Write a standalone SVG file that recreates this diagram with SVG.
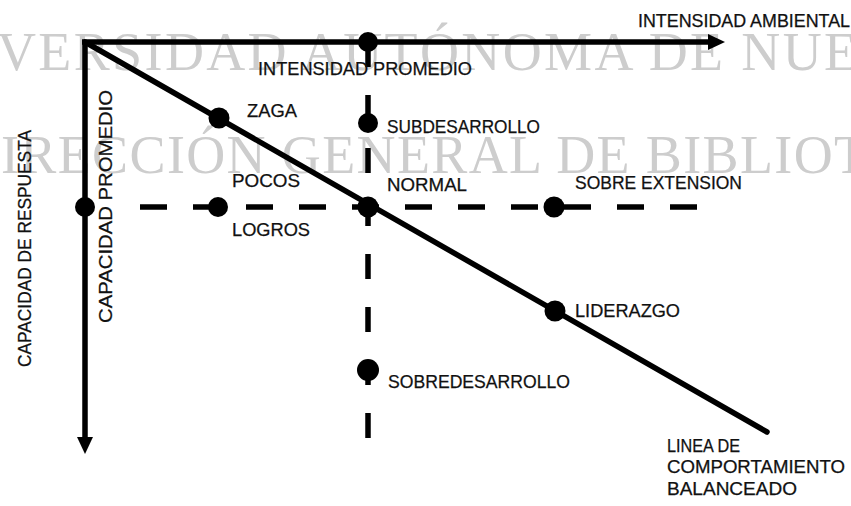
<svg xmlns="http://www.w3.org/2000/svg" width="851" height="506" viewBox="0 0 851 506">
<style>
.wm{font-family:"Liberation Serif","Times New Roman",serif;fill:#cdcdcd}
.lbl{font-family:"Liberation Sans",Arial,sans-serif;font-size:17.5px;fill:#111;stroke:#111;stroke-width:0.25}
.ax{stroke:#000;stroke-width:5.5;fill:none}
.dash{stroke:#000;stroke-width:5.5;fill:none}
.dot{fill:#000}
</style>
<rect width="851" height="506" fill="#fff"/>
<g id="watermark">
<text class="wm" x="-3" y="70" font-size="54" textLength="860" lengthAdjust="spacing">VERSIDAD AUTÓNOMA DE NUE</text>
<text class="wm" x="1" y="173" font-size="54" textLength="866" lengthAdjust="spacing">IRECCIÓN GENERAL DE BIBLIOT</text>
</g>
<g id="connectors">
<line class="ax" x1="82" y1="42" x2="711" y2="42"/>
<polygon points="708,34 725,42 708,50" fill="#000"/>
<line class="ax" x1="85" y1="40" x2="85" y2="439"/>
<polygon points="77,437 85,454 93,437" fill="#000"/>
<line class="ax" x1="85" y1="42" x2="767" y2="432" stroke-linecap="round"/>
<line class="dash" x1="368" y1="42" x2="368" y2="440" stroke-dasharray="25 28"/>
<line class="dash" x1="140" y1="207" x2="700" y2="207" stroke-dasharray="27 26"/>
</g>
<g id="axis-x-label"><text class="lbl" x="638" y="27" textLength="212" lengthAdjust="spacingAndGlyphs">INTENSIDAD AMBIENTAL</text></g>
<g id="axis-y-label"><text class="lbl" transform="translate(31,367) rotate(-90)" textLength="237" lengthAdjust="spacingAndGlyphs">CAPACIDAD DE RESPUESTA</text></g>
<g id="intensidad-promedio"><circle class="dot" cx="368" cy="42" r="10"/><text class="lbl" x="258" y="75" textLength="214" lengthAdjust="spacingAndGlyphs">INTENSIDAD PROMEDIO</text></g>
<g id="capacidad-promedio"><circle class="dot" cx="85" cy="207" r="10"/><text class="lbl" transform="translate(112,323) rotate(-90)" textLength="233" lengthAdjust="spacingAndGlyphs">CAPACIDAD PROMEDIO</text></g>
<g id="zaga"><circle class="dot" cx="219" cy="118" r="10.5"/><text class="lbl" x="247" y="117" textLength="50" lengthAdjust="spacingAndGlyphs">ZAGA</text></g>
<g id="subdesarrollo"><circle class="dot" cx="368" cy="123" r="10"/><text class="lbl" x="387" y="133" textLength="153" lengthAdjust="spacingAndGlyphs">SUBDESARROLLO</text></g>
<g id="pocos-logros"><circle class="dot" cx="218" cy="207" r="10"/><text class="lbl" x="232" y="187" textLength="68" lengthAdjust="spacingAndGlyphs">POCOS</text><text class="lbl" x="232" y="236" textLength="78" lengthAdjust="spacingAndGlyphs">LOGROS</text></g>
<g id="normal"><circle class="dot" cx="368" cy="207" r="10.5"/><text class="lbl" x="387" y="191" textLength="80" lengthAdjust="spacingAndGlyphs">NORMAL</text></g>
<g id="sobre-extension"><circle class="dot" cx="554" cy="207" r="10.5"/><text class="lbl" x="575" y="189" textLength="167" lengthAdjust="spacingAndGlyphs">SOBRE EXTENSION</text></g>
<g id="liderazgo"><circle class="dot" cx="555" cy="311" r="10.5"/><text class="lbl" x="575" y="317" textLength="105" lengthAdjust="spacingAndGlyphs">LIDERAZGO</text></g>
<g id="sobredesarrollo"><circle class="dot" cx="368" cy="370" r="11"/><text class="lbl" x="388" y="388" textLength="182" lengthAdjust="spacingAndGlyphs">SOBREDESARROLLO</text></g>
<g id="linea-balanceada"><text class="lbl" x="667" y="452" textLength="73" lengthAdjust="spacingAndGlyphs">LINEA DE</text><text class="lbl" x="667" y="473" textLength="178" lengthAdjust="spacingAndGlyphs">COMPORTAMIENTO</text><text class="lbl" x="667" y="495" textLength="130" lengthAdjust="spacingAndGlyphs">BALANCEADO</text></g>
</svg>
